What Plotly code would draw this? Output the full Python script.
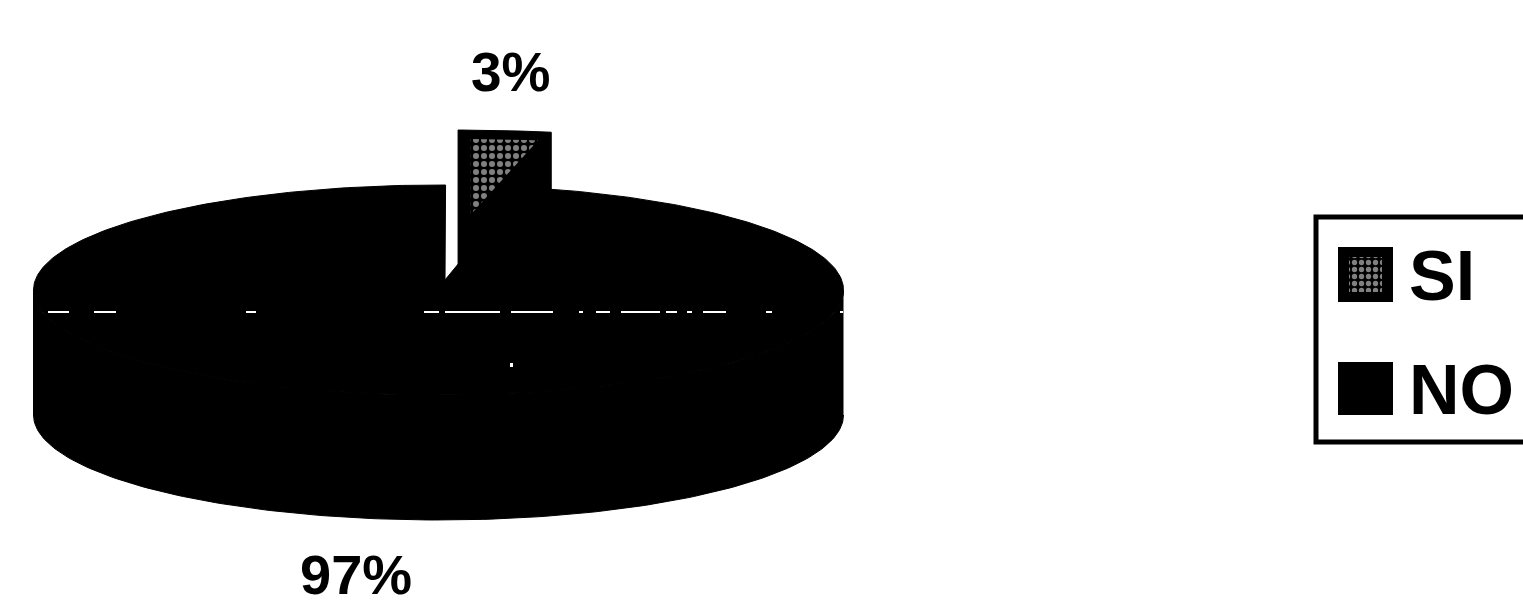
import numpy as np
import plotly.graph_objects as go

# ---- data ----
categories = ["SI", "NO"]
values = [3, 97]

# ---- geometry / style (pixel space of the page) ----
W, H = 1523, 607
CX, CY, RX, RY, DEPTH = 438.5, 290, 405, 105, 125
START_DEG = 1.0
APEX_X, APEX_Y = 445, 280
EXPLODE_X, EXPLODE_Y, EXPLODE_SCALE = 12.5, -55, 1.23
INK = "#000000"
FONT = "Liberation Sans"


def rim(a, b, n=160):
    t = np.radians(np.linspace(a, b, n))
    return CX + RX * np.sin(t), CY - RY * np.cos(t)


def poly(x, y, **kw):
    return go.Scatter(x=list(x), y=list(y), mode="lines", fill="toself", fillcolor=INK,
                      line=dict(color=INK, width=1), hoverinfo="skip", showlegend=False, **kw)


si_deg = values[0] / sum(values) * 360
a0, a1 = START_DEG, START_DEG + si_deg
fig = go.Figure()

# main slice ("NO"): side wall then top face
wx, wy = rim(90, 270)
fig.add_trace(poly(np.r_[wx, wx[::-1]], np.r_[wy, wy[::-1] + DEPTH]))
mx, my = rim(a1, START_DEG + 360, 400)
fig.add_trace(poly(np.r_[APEX_X, mx, APEX_X], np.r_[APEX_Y, my, APEX_Y]))

# exploded slice ("SI")
sx, sy = rim(a0, a1, 40)
left = sx[0]
sx = left + EXPLODE_SCALE * (sx - left) + EXPLODE_X
sy = sy + EXPLODE_Y
ax, ay = left + EXPLODE_X, CY + EXPLODE_Y
fig.add_trace(poly(np.r_[ax, sx, sx[-1], ax, ax],
                   np.r_[ay, sy, sy[-1] + DEPTH, ay + DEPTH, ay]))
# dithered grey of the top face, inset inside the slice
fx, fy = np.r_[ax, sx], np.r_[ay, sy]
ccx, ccy = fx.mean(), fy.mean()
INSET = 0.72
fig.add_trace(go.Scatter(
    x=list(ccx + INSET * (fx - ccx)), y=list(ccy + INSET * (fy - ccy) + 8), mode="lines", fill="toself",
    fillcolor="rgba(0,0,0,0)", line=dict(width=0), hoverinfo="skip", showlegend=False,
    fillpattern=dict(shape=".", fgcolor="#ffffff", bgcolor=INK, size=8, solidity=0.45)))

# scanned seam flecks across the body
for a, b in [(48, 69), (94, 116), (246, 256), (424, 439), (445, 500), (511, 553), (579, 583),
             (596, 610), (621, 660), (666, 677), (687, 692), (703, 726), (766, 772), (840, 843)]:
    fig.add_shape(type="line", x0=a, x1=b, y0=312, y1=312, line=dict(color="#ffffff", width=2))
fig.add_shape(type="rect", x0=510, x1=513, y0=363, y1=367, fillcolor="#ffffff", line_width=0)

# slice labels
for txt, x, y, size in [(f"{values[0]}%", 511, 72, 55), (f"{values[1]}%", 356, 574, 56)]:
    fig.add_annotation(x=x, y=y, text=f"<b>{txt}</b>", showarrow=False, xanchor="center", yanchor="middle",
                       font=dict(family=FONT, size=size, color=INK))

# legend box, drawn to run off the right edge as in the reference
fig.add_shape(type="rect", x0=1316, x1=1560, y0=217, y1=442, line=dict(color=INK, width=5), fillcolor="#ffffff",
              layer="below")
SW_X0, SW_X1 = 1338, 1393
for name, y0, y1 in [(categories[0], 247, 302), (categories[1], 362, 415)]:
    fig.add_shape(type="rect", x0=SW_X0, x1=SW_X1, y0=y0, y1=y1, fillcolor=INK, line_width=0, layer="below")
    fig.add_annotation(x=1407, y=(y0 + y1) / 2 + 1, text=f"<b>{name}</b>", showarrow=False, xanchor="left",
                       yanchor="middle", font=dict(family=FONT, size=70, color=INK))
    if name == categories[0]:
        fig.add_trace(go.Scatter(
            x=[SW_X0 + 11, SW_X1 - 11, SW_X1 - 11, SW_X0 + 11, SW_X0 + 11],
            y=[y0 + 10, y0 + 10, y1 - 10, y1 - 10, y0 + 10], mode="lines", fill="toself",
            fillcolor="rgba(0,0,0,0)", line=dict(width=0), hoverinfo="skip", showlegend=False,
            fillpattern=dict(shape=".", fgcolor="#ffffff", bgcolor=INK, size=7, solidity=0.45)))

fig.update_layout(
    width=W, height=H, margin=dict(l=0, r=0, t=0, b=0),
    paper_bgcolor="#ffffff", plot_bgcolor="#ffffff", showlegend=False,
    xaxis=dict(range=[0, W], visible=False, fixedrange=True),
    yaxis=dict(range=[H, 0], visible=False, fixedrange=True),
)
fig.write_html("out.html", config={"displayModeBar": False},
               post_script="document.body.style.margin='0';document.body.style.overflow='hidden';")
